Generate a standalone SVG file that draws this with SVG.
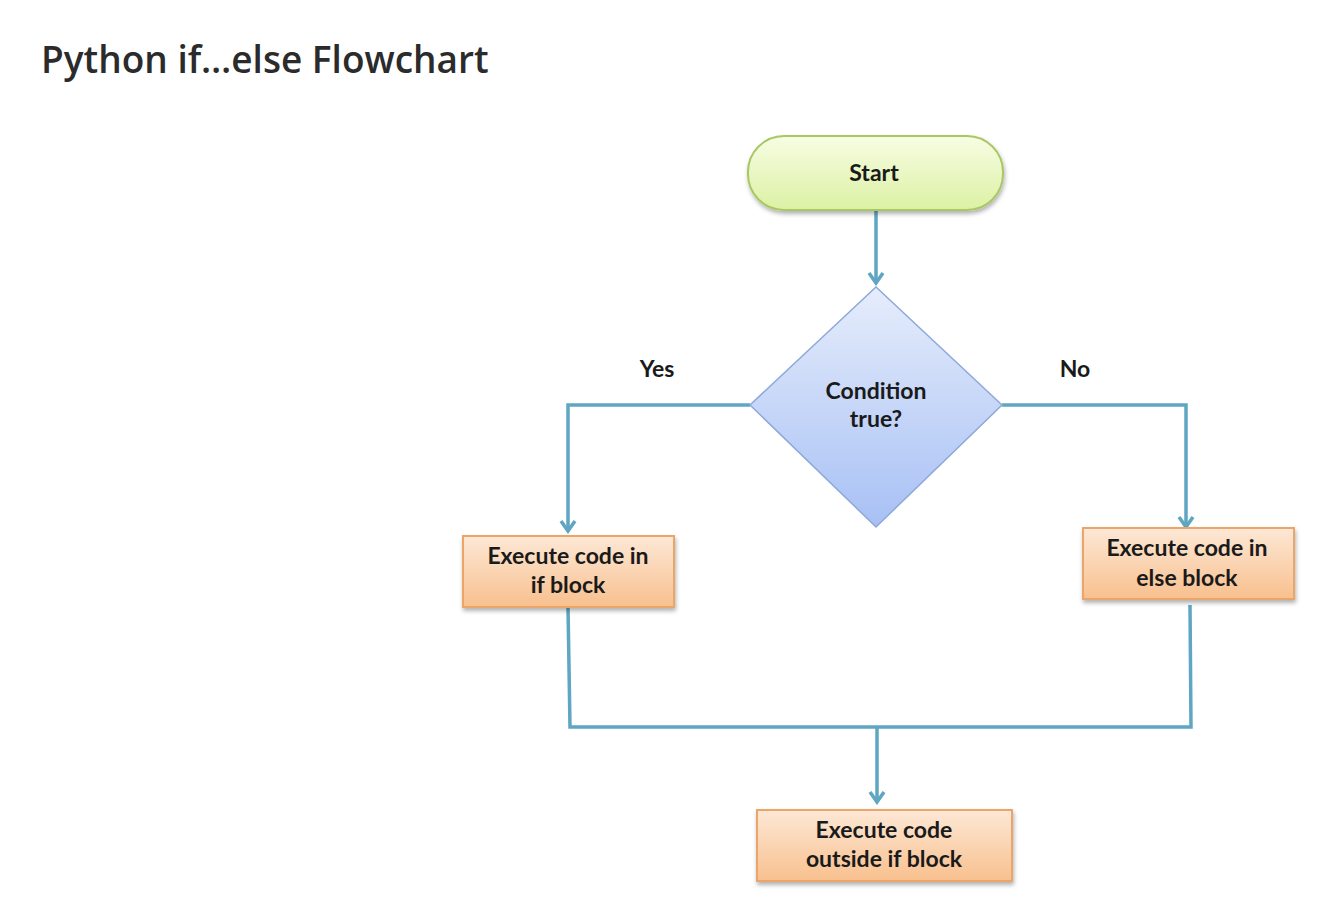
<svg xmlns="http://www.w3.org/2000/svg" width="1324" height="924" viewBox="0 0 1324 924">
<defs>
<linearGradient id="gGreen" x1="0" y1="0" x2="0" y2="1"><stop offset="0" stop-color="#f7fde3"/><stop offset="1" stop-color="#dcf1a4"/></linearGradient>
<linearGradient id="gBlue" x1="0" y1="0" x2="0" y2="1"><stop offset="0" stop-color="#e6edfc"/><stop offset="1" stop-color="#a7c0f4"/></linearGradient>
<linearGradient id="gOrange" x1="0" y1="0" x2="0" y2="1"><stop offset="0" stop-color="#fde8d6"/><stop offset="1" stop-color="#f8c08e"/></linearGradient>
<filter id="sh" x="-10%" y="-10%" width="125%" height="135%"><feDropShadow dx="1" dy="3" stdDeviation="2" flood-color="#000" flood-opacity="0.3"/></filter>
<marker id="arr" markerWidth="16" markerHeight="18" refX="13" refY="9" orient="auto" markerUnits="userSpaceOnUse" viewBox="0 0 16 18">
<path d="M3,2 L13,9 L3,16" fill="none" stroke="#5ea6c2" stroke-width="3.5"/>
</marker>
</defs>
<style>
.t{font-family:Lato,"Open Sans",sans-serif;font-weight:bold;font-size:23px;fill:#1a1a1a;text-anchor:middle}
.c{fill:none;stroke:#5ea6c2;stroke-width:3.5}
</style>
<rect width="1324" height="924" fill="#fff"/>
<text x="41" y="73" font-family="'Open Sans','Noto Sans',sans-serif" font-weight="600" font-size="37" fill="#2b2b2b">Python if…else Flowchart</text>
<g id="connectors">
<path class="c" d="M876,210 V283" marker-end="url(#arr)"/>
<path class="c" d="M750,405 H568 V531" marker-end="url(#arr)"/>
<path class="c" d="M1002,405 H1186 V527" marker-end="url(#arr)"/>
<path class="c" d="M568,607 L570,727 H1191 L1190,605"/>
<path class="c" d="M877,727 V802" marker-end="url(#arr)"/>
</g>
<g id="start"><rect x="748" y="136" width="255" height="74" rx="36" fill="url(#gGreen)" stroke="#a9c764" stroke-width="2" filter="url(#sh)"/><text class="t" x="874" y="181">Start</text></g>
<g id="cond"><polygon points="876,287 1002,405 876,527 750,405" fill="url(#gBlue)" stroke="#8ea8d8" stroke-width="1.5"/><text class="t" x="876" y="399">Condition</text><text class="t" x="876" y="427">true?</text></g>
<text class="t" x="657" y="377">Yes</text>
<text class="t" x="1075" y="377">No</text>
<g id="ifblock"><rect x="463" y="536" width="211" height="71" fill="url(#gOrange)" stroke="#eba568" stroke-width="2" filter="url(#sh)"/><text class="t" x="568" y="564">Execute code in</text><text class="t" x="568" y="593">if block</text></g>
<g id="elseblock"><rect x="1083" y="528" width="211" height="71" fill="url(#gOrange)" stroke="#eba568" stroke-width="2" filter="url(#sh)"/><text class="t" x="1187" y="556">Execute code in</text><text class="t" x="1187" y="586">else block</text></g>
<g id="outside"><rect x="757" y="810" width="255" height="71" fill="url(#gOrange)" stroke="#eba568" stroke-width="2" filter="url(#sh)"/><text class="t" x="884" y="838">Execute code</text><text class="t" x="884" y="867">outside if block</text></g>
</svg>
